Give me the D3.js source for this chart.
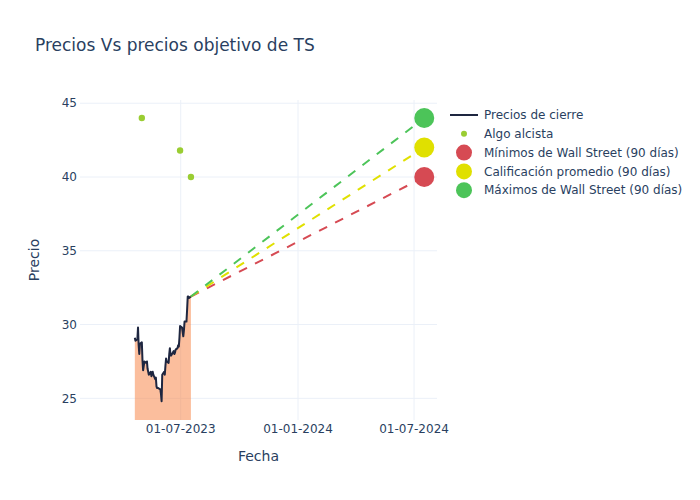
<!DOCTYPE html>
<html>
<head>
<meta charset="utf-8">
<script src="https://cdn.jsdelivr.net/npm/d3@7"></script>
<style>
  html, body { margin: 0; padding: 0; background: #fff; }
  svg { display: block; }
  text { font-family: "DejaVu Sans", Verdana, sans-serif; fill: #2a3f5f; }
</style>
</head>
<body>
<svg id="chart" width="700" height="500"></svg>
<script>
// ---------- data ----------
const priceDates = [
  "2023-04-20","2023-04-21","2023-04-24","2023-04-25","2023-04-26","2023-04-27","2023-04-28",
  "2023-05-01","2023-05-02","2023-05-03","2023-05-04","2023-05-05",
  "2023-05-08","2023-05-09","2023-05-10","2023-05-11","2023-05-12",
  "2023-05-15","2023-05-16","2023-05-17","2023-05-18","2023-05-19",
  "2023-05-22","2023-05-23","2023-05-24","2023-05-25","2023-05-26",
  "2023-05-30","2023-05-31","2023-06-01","2023-06-02",
  "2023-06-05","2023-06-06","2023-06-07","2023-06-08","2023-06-09",
  "2023-06-12","2023-06-13","2023-06-14","2023-06-15","2023-06-16",
  "2023-06-20","2023-06-21","2023-06-22","2023-06-23",
  "2023-06-26","2023-06-27","2023-06-28","2023-06-29","2023-06-30",
  "2023-07-03","2023-07-05","2023-07-06","2023-07-07",
  "2023-07-10","2023-07-11","2023-07-12","2023-07-13","2023-07-14","2023-07-17"
];
const priceValues = [
  29.1, 28.9, 29.0, 29.8, 28.6, 28.0, 28.7,
  28.8, 27.6, 26.9, 27.2, 27.5,
  27.4, 27.5, 27.0, 26.8, 26.6,
  26.8, 26.5, 26.7, 26.8, 26.6,
  26.3, 26.4, 25.8, 25.7, 25.7,
  25.6, 25.3, 24.8, 26.6,
  26.8, 26.6, 27.2, 27.7, 27.5,
  27.4, 28.0, 28.4, 27.9, 27.9,
  28.2, 28.0, 28.1, 28.3,
  28.4, 28.6, 28.5, 29.1, 29.9,
  29.8, 29.2, 29.6, 30.2,
  30.2, 31.0, 31.9, 31.9, 31.8, 31.9
];
const algoDates = ["2023-05-01", "2023-06-30", "2023-07-17"];
const algoValues = [44.0, 41.8, 40.0];

const targetDate = "2024-07-17";
const targetNames = ["Mínimos de Wall Street (90 días)", "Calificación promedio (90 días)", "Máximos de Wall Street (90 días)"];
const targetValues = [40.0, 42.0, 44.0];
const targetColors = ["#d64a53", "#e0e000", "#4cc459"];

const xTickDates = ["2023-07-01", "2024-01-01", "2024-07-01"];
const xTickLabels = ["01-07-2023", "01-01-2024", "01-07-2024"];
const yTicks = [25, 30, 35, 40, 45];

const legendNames = ["Precios de cierre", "Algo alcista"].concat(targetNames);

// ---------- layout ----------
const parse = d3.utcParse("%Y-%m-%d");
const svg = d3.select("#chart");
const L = 80, R = 437, T = 100, B = 420;

const x = d3.scaleUtc()
  .domain([parse("2023-01-24"), parse("2024-08-06")])
  .range([L, R]);
const y = d3.scaleLinear().domain([23.53, 45.22]).range([B, T]);

const grid = "#ebf0f8";
// grid lines
svg.append("g").selectAll("line").data(yTicks).join("line")
  .attr("x1", L).attr("x2", R)
  .attr("y1", d => y(d)).attr("y2", d => y(d))
  .attr("stroke", grid).attr("stroke-width", 1);
svg.append("g").selectAll("line").data(xTickDates).join("line")
  .attr("x1", d => x(parse(d))).attr("x2", d => x(parse(d)))
  .attr("y1", T).attr("y2", B)
  .attr("stroke", grid).attr("stroke-width", 1);

// clip
svg.append("defs").append("clipPath").attr("id", "clip")
  .append("rect").attr("x", L).attr("y", T).attr("width", R - L).attr("height", B - T);
const plot = svg.append("g").attr("clip-path", "url(#clip)");

const prices = priceDates.map((d, i) => ({ date: parse(d), v: priceValues[i] }));

// area (to zero)
plot.append("path").datum(prices)
  .attr("d", d3.area().x(d => x(d.date)).y0(y(0)).y1(d => y(d.v)))
  .attr("fill", "rgba(248,126,60,0.5)");

plot.append("path").datum(prices)
  .attr("d", d3.line().x(d => x(d.date)).y(d => y(d.v)))
  .attr("fill", "none").attr("stroke", "#1e2640").attr("stroke-width", 2)
  .attr("stroke-linejoin", "round");

// algo points
plot.append("g").selectAll("circle").data(algoDates).join("circle")
  .attr("cx", d => x(parse(d)))
  .attr("cy", (d, i) => y(algoValues[i]))
  .attr("r", 3.2).attr("fill", "#9acd32");

// dashed target lines
const last = prices[prices.length - 1];
targetValues.forEach((v, i) => {
  plot.append("line")
    .attr("x1", x(last.date)).attr("y1", y(last.v))
    .attr("x2", x(parse(targetDate))).attr("y2", y(v))
    .attr("stroke", targetColors[i]).attr("stroke-width", 2)
    .attr("stroke-dasharray", "9,9");
});
targetValues.forEach((v, i) => {
  plot.append("circle")
    .attr("cx", x(parse(targetDate))).attr("cy", y(v))
    .attr("r", 10).attr("fill", targetColors[i]);
});

// y tick labels
svg.append("g").selectAll("text").data(yTicks).join("text")
  .attr("x", 77).attr("y", d => y(d)).attr("dy", "0.35em")
  .attr("text-anchor", "end").attr("font-size", 12).text(d => d);

// x tick labels
svg.append("g").selectAll("text").data(xTickDates).join("text")
  .attr("x", d => x(parse(d))).attr("y", 433)
  .attr("text-anchor", "middle").attr("font-size", 12)
  .text((d, i) => xTickLabels[i]);

// axis titles
svg.append("text").attr("x", (L + R) / 2).attr("y", 461)
  .attr("text-anchor", "middle").attr("font-size", 14).text("Fecha");
svg.append("text").attr("transform", `translate(39,${(T + B) / 2}) rotate(-90)`)
  .attr("text-anchor", "middle").attr("font-size", 14).text("Precio");

// title
svg.append("text").attr("x", 35).attr("y", 51)
  .attr("font-size", 17).text("Precios Vs precios objetivo de TS");

// legend
const lg = svg.append("g");
const rowY = i => 115 + i * 18.8;
legendNames.forEach((name, i) => {
  const cy = rowY(i);
  if (i === 0) {
    lg.append("line").attr("x1", 450).attr("x2", 478).attr("y1", cy).attr("y2", cy)
      .attr("stroke", "#1e2640").attr("stroke-width", 2);
  } else if (i === 1) {
    lg.append("circle").attr("cx", 464).attr("cy", cy).attr("r", 3).attr("fill", "#9acd32");
  } else {
    lg.append("circle").attr("cx", 464).attr("cy", cy).attr("r", 8).attr("fill", targetColors[i - 2]);
  }
  lg.append("text").attr("x", 484).attr("y", cy).attr("dy", "0.35em")
    .attr("font-size", 12).text(name);
});
</script>
</body>
</html>
